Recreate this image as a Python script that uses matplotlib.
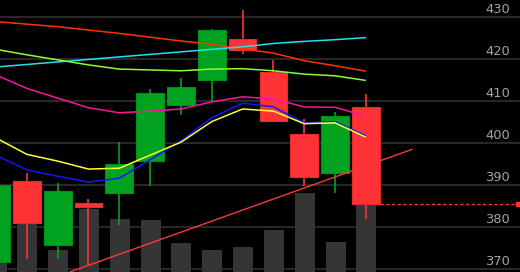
import numpy as np
import matplotlib
matplotlib.use("Agg")
import matplotlib.pyplot as plt
import matplotlib.transforms as mtransforms

# ---- data ----
opens  = [371.7, 391.0, 375.6, 385.7, 388.2, 395.6, 409.0, 415.1, 424.7, 416.9, 402.1, 392.9, 408.6]
closes = [389.9, 380.9, 388.5, 384.8, 394.9, 411.8, 413.3, 427.0, 422.1, 405.2, 392.0, 406.4, 385.4]
highs  = [391.5, 392.9, 390.4, 386.7, 400.3, 412.9, 415.5, 427.1, 431.7, 419.8, 405.7, 407.3, 411.6]
lows   = [369.0, 372.3, 372.5, 370.9, 380.4, 389.8, 406.6, 410.0, 421.1, 405.0, 389.8, 388.2, 381.8]
volumes = [4.5, 5.7, 2.2, 6.3, 5.3, 5.2, 2.9, 2.2, 2.5, 4.2, 7.9, 3.0, 8.5]

ma_orange  = [428.9, 428.3, 427.7, 426.9, 426.1, 425.2, 424.3, 423.5, 422.4, 421.4, 419.6, 418.4, 417.1]
ma_cyan    = [418.1, 418.7, 419.3, 419.9, 420.5, 421.1, 421.7, 422.3, 422.9, 423.7, 424.2, 424.6, 425.1]
ma_lime    = [422.3, 421.0, 419.8, 418.6, 417.6, 417.4, 417.2, 417.6, 417.7, 417.2, 416.4, 416.0, 414.9]
ma_magenta = [416.2, 413.0, 410.7, 408.4, 407.2, 407.6, 408.1, 409.8, 411.0, 410.5, 408.6, 408.5, 406.4]
ma_blue    = [397.1, 393.6, 392.1, 390.7, 391.6, 396.0, 400.5, 406.0, 409.5, 408.6, 404.8, 405.1, 401.7]
ma_yellow  = [401.2, 397.3, 395.7, 393.8, 394.0, 397.1, 400.2, 405.1, 408.1, 407.6, 404.6, 404.8, 401.4]

trend_idx = [2.4, 13.5]
trend_price = [369.3, 398.5]

price_ticks = [430, 420, 410, 400, 390, 380, 370]

# ---- figure ----
fig = plt.figure(figsize=(5.2, 2.72), dpi=100, facecolor="black")
ax_vol = fig.add_axes([0, 0, 1, 1])
ax_vol.set_facecolor("black")
ax = fig.add_axes([0, 0, 1, 1])
ax.patch.set_alpha(0)

xs = np.arange(len(opens))
xlim = (0.13, 17.0)
ax.set_xlim(*xlim)
ax_vol.set_xlim(*xlim)
ax.set_ylim(369.29, 434.05)
ax_vol.set_ylim(0, 27.2)
for a in (ax, ax_vol):
    a.axis("off")

# volume bars
ax_vol.bar(xs, volumes, width=0.62, color="#353535", edgecolor="#3a3a3a", linewidth=0.6)

# grid lines and labels
for t in price_ticks:
    ax.axhline(t, color="#333333", lw=1.1, zorder=0)
    ax.annotate(str(t), xy=(0.981, t), xycoords=("axes fraction", "data"),
                xytext=(0, 2.6), textcoords="offset points",
                ha="right", va="baseline", color="#a3a3a3",
                fontsize=9.4, family="DejaVu Sans")

# candles
green, green_e = "#00a21f", "#009019"
red, red_e = "#ff3336", "#e82a2d"
for i in range(len(opens)):
    o, c, h, l = opens[i], closes[i], highs[i], lows[i]
    up = c >= o
    col = green if up else red
    ecol = green_e if up else red_e
    ax.vlines(xs[i], l, h, color=col, lw=1.2, zorder=2)
    ax.bar(xs[i], abs(c - o), bottom=min(o, c), width=0.9,
           color=col, edgecolor=ecol, linewidth=0.8, zorder=3)

# moving averages
for vals, col in [(ma_orange, "#ff3300"), (ma_cyan, "#22e2ee"), (ma_lime, "#88ff33"),
                  (ma_magenta, "#ff12a0"), (ma_blue, "#1414ff"), (ma_yellow, "#ffff33")]:
    ax.plot(xs, vals, color=col, lw=1.1, zorder=4, solid_capstyle="butt")

# trend line
ax.plot(trend_idx, trend_price, color="#ff3838", lw=1.0, zorder=4)

# last price line
last = closes[-1]
ax.plot([xs[-1] + 0.45, xlim[1]], [last, last], color="#ff3333", lw=1.0,
        dashes=(2.4, 1.7), zorder=4)
trans = mtransforms.blended_transform_factory(ax.transAxes, ax.transData)
ax.plot([0.9952], [last], marker="s", ms=3.4, color="#ff3333", transform=trans,
        clip_on=False, zorder=5, linestyle="none")

fig.savefig("out.png", dpi=100, facecolor="black")
